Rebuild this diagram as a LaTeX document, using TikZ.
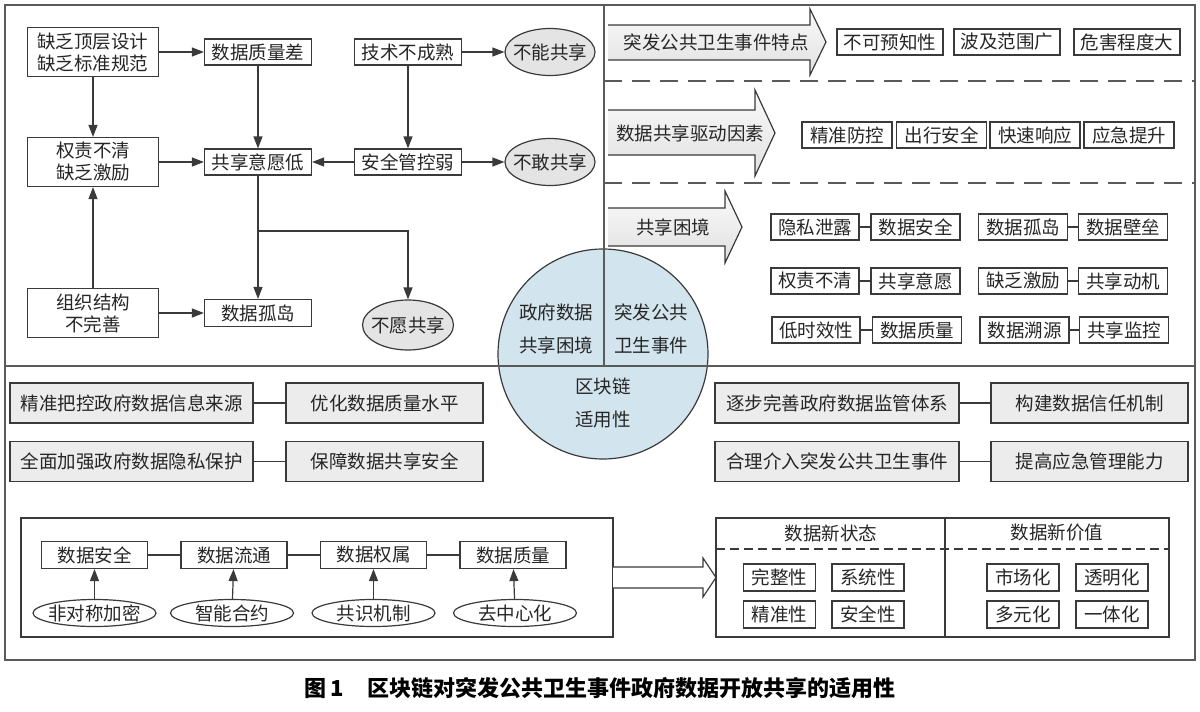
\documentclass[tikz,border=0pt]{standalone}
\usepackage{fontspec}
\setmainfont{Noto Sans CJK SC}
\usepackage{tikz}
\usetikzlibrary{arrows.meta, shapes.geometric}

\definecolor{lineGray}{HTML}{3A3A3A}
\definecolor{frameGray}{HTML}{5A5A5A}
\definecolor{ovalGray}{HTML}{E4E4E4}
\definecolor{boxGray}{HTML}{ECECEC}
\definecolor{circleBlue}{HTML}{D2E4ED}

\tikzset{
  every node/.style={font=\fontsize{18.5}{22}\selectfont, text=black!85},
  cellbox/.style={draw=lineGray, line width=1.2pt, fill=white, inner sep=0pt, minimum height=26pt},
  twobox/.style={cellbox, align=center, minimum width=131pt, minimum height=49pt},
  oval/.style={ellipse, draw=lineGray, line width=1.2pt, fill=ovalGray, inner xsep=-8pt, inner ysep=-2pt, minimum width=90pt, minimum height=47pt},
  techoval/.style={oval, fill=white, minimum width=123pt, minimum height=27pt},
  graybox/.style={cellbox, fill=boxGray, minimum height=40pt},
  link/.style={draw=lineGray, line width=1.2pt},
  arr/.style={link, -{Triangle[length=12pt, width=9pt]}},
  blockarrow/.style={draw=lineGray, line width=1.2pt, top color=gray!4, bottom color=gray!24},
  panel/.style={draw=lineGray, line width=1.2pt, inner sep=0pt},
  frame/.style={draw=frameGray, line width=1.2pt}
}

\begin{document}
\begin{tikzpicture}[x=1pt, y=-1pt]
  \useasboundingbox (0,0) rectangle (1200,712);

  \def\xMID{604};
  \def\yMID{366};

  % circle in the middle
  \draw[lineGray, line width=1.2pt, fill=circleBlue] (603,354) circle (105);

  % frame and dividers
  \begin{scope}[frame]
    \draw (5,5) rectangle (1195,660);
    \draw (\xMID,5) -- (\xMID,\yMID);
    \draw (5,\yMID) -- (1195,\yMID);
  \end{scope}
  \begin{scope}[frame, dash pattern=on 18pt off 10pt]
    \draw (\xMID,81) -- (1195,81);
    \draw (\xMID,183) -- (1195,183);
  \end{scope}

  \node[align=center, font=\fontsize{18.5}{33}\selectfont] (govData) at (556,328.5) {政府数据\\共享困境};
  \node[align=center, font=\fontsize{18.5}{33}\selectfont] (emergEvent) at (651,328.5) {突发公共\\卫生事件};
  \node[align=center, font=\fontsize{18.5}{33}\selectfont] (chainFit) at (603,403) {区块链\\适用性};

  % top left: causes of the sharing dilemma
  \node[twobox] (lackTop) at (93,52) {缺乏顶层设计\\缺乏标准规范};
  \node[cellbox, minimum width=107pt] (poorQual) at (258,52) {数据质量差};
  \node[cellbox, minimum width=107pt] (immature) at (408,52) {技术不成熟};
  \node[oval] (cannotShare) at (550,52) {不能共享};
  \node[twobox] (unclearDuty) at (93,162) {权责不清\\缺乏激励};
  \node[cellbox, minimum width=107pt] (lowWill) at (258,162) {共享意愿低};
  \node[cellbox, minimum width=107pt] (weakCtl) at (408,162) {安全管控弱};
  \node[oval] (dareNot) at (550,162) {不敢共享};
  \node[twobox] (orgStruct) at (93,313) {组织结构\\不完善};
  \node[cellbox, minimum width=107pt, minimum height=27pt] (dataIsland) at (258,313) {数据孤岛};
  \node[oval, minimum width=91pt, minimum height=50pt] (unwilling) at (408,325) {不愿共享};
  \coordinate (split) at (258,231);

  \begin{scope}[arr]
    \draw (lackTop) -- (poorQual);
    \draw (lackTop) -- (unclearDuty);
    \draw (orgStruct) -- (unclearDuty);
    \draw (unclearDuty) -- (lowWill);
    \draw (poorQual) -- (lowWill);
    \draw (immature) -- (weakCtl);
    \draw (immature) -- (cannotShare);
    \draw (weakCtl) -- (lowWill);
    \draw (weakCtl) -- (dareNot);
    \draw (lowWill) -- (dataIsland);
    \draw (split) -| (unwilling);
    \draw (orgStruct) -- (dataIsland);
  \end{scope}

  % top right: block arrows
  \draw[blockarrow] (608,25) -- (810,25) -- (810,9) -- (826,42) -- (810,75) -- (810,60) -- (608,60);
  \draw[blockarrow] (608,110) -- (755,110) -- (755,90) -- (775,133) -- (755,176) -- (755,155) -- (608,155);
  \draw[blockarrow] (608,208) -- (725,208) -- (725,191) -- (742,227) -- (725,263) -- (725,246) -- (608,246);
  \node (featureLbl) at (716,42) {突发公共卫生事件特点};
  \node (driverLbl) at (690,133) {数据共享驱动因素};
  \node (dilemmaLbl) at (673,227) {共享困境};

  \node[cellbox, minimum width=106pt] (unforeseen) at (890,42) {不可预知性};
  \node[cellbox, minimum width=106pt] (wideRange) at (1007,42) {波及范围广};
  \node[cellbox, minimum width=106pt] (greatHarm) at (1127,42) {危害程度大};

  \node[cellbox, minimum width=90pt] (preciseCtl) at (847,135) {精准防控};
  \node[cellbox, minimum width=90pt] (travelSafe) at (941.5,135) {出行安全};
  \node[cellbox, minimum width=90pt] (fastResp) at (1035,135) {快速响应};
  \node[cellbox, minimum width=90pt] (emergUp) at (1129,135) {应急提升};

  \node[cellbox, minimum width=88pt] (privLeak) at (815,227) {隐私泄露};
  \node[cellbox, minimum width=89pt] (dataSafeA) at (915.5,227) {数据安全};
  \node[cellbox, minimum width=89pt] (islandB) at (1023,227) {数据孤岛};
  \node[cellbox, minimum width=89pt] (barrier) at (1123,227) {数据壁垒};
  \node[cellbox, minimum width=88pt] (dutyB) at (815,281) {权责不清};
  \node[cellbox, minimum width=89pt] (willB) at (915.5,281) {共享意愿};
  \node[cellbox, minimum width=89pt] (incentB) at (1023,281) {缺乏激励};
  \node[cellbox, minimum width=89pt] (motive) at (1123,281) {共享动机};
  \node[cellbox, minimum width=88pt] (timeliness) at (816,330) {低时效性};
  \node[cellbox, minimum width=89pt] (qualB) at (917,330) {数据质量};
  \node[cellbox, minimum width=89pt] (traceSrc) at (1024.5,330) {数据溯源};
  \node[cellbox, minimum width=89pt] (monitor) at (1124,330) {共享监控};

  \begin{scope}[link]
    \draw (privLeak) -- (dataSafeA);
    \draw (islandB) -- (barrier);
    \draw (dutyB) -- (willB);
    \draw (incentB) -- (motive);
    \draw (timeliness) -- (qualB);
    \draw (traceSrc) -- (monitor);
  \end{scope}

  % middle: measures
  \node[graybox, minimum width=243pt] (srcCtl) at (131.5,403) {精准把控政府数据信息来源};
  \node[graybox, minimum width=197pt] (optQual) at (384.5,403) {优化数据质量水平};
  \node[graybox, minimum width=243pt] (privProt) at (131.5,461.5) {全面加强政府数据隐私保护};
  \node[graybox, minimum width=197pt] (guardSafe) at (384.5,461.5) {保障数据共享安全};
  \node[graybox, minimum width=244pt] (superSys) at (837,403) {逐步完善政府数据监管体系};
  \node[graybox, minimum width=197pt] (trustMech) at (1089.5,403) {构建数据信任机制};
  \node[graybox, minimum width=244pt] (intervene) at (837,461.5) {合理介入突发公共卫生事件};
  \node[graybox, minimum width=197pt] (emergAbility) at (1089.5,461.5) {提高应急管理能力};

  \begin{scope}[link]
    \draw (srcCtl) -- (optQual);
    \draw (privProt) -- (guardSafe);
    \draw (superSys) -- (trustMech);
    \draw (intervene) -- (emergAbility);
  \end{scope}

  % bottom left: blockchain techniques
  \node[panel, minimum width=592pt, minimum height=119pt] (techPanel) at (317,577.5) {};
  \node[cellbox, minimum width=106pt, minimum height=27pt] (safeC) at (94.5,555) {数据安全};
  \node[cellbox, minimum width=106pt, minimum height=27pt] (flowC) at (234,555) {数据流通};
  \node[cellbox, minimum width=106pt, minimum height=27pt] (ownC) at (373.5,555) {数据权属};
  \node[cellbox, minimum width=106pt, minimum height=27pt] (qualC) at (513,555) {数据质量};
  \node[techoval] (asymEnc) at (94.5,613) {非对称加密};
  \node[techoval] (smartCt) at (232,613) {智能合约};
  \node[techoval] (consensus) at (373.5,613) {共识机制};
  \node[techoval] (decentral) at (515,613) {去中心化};

  \begin{scope}[link]
    \draw (safeC) -- (flowC);
    \draw (flowC) -- (ownC);
    \draw (ownC) -- (qualC);
  \end{scope}
  \begin{scope}[arr]
    \draw (asymEnc) -- (safeC);
    \draw (smartCt) -- (flowC);
    \draw (consensus) -- (ownC);
    \draw (decentral) -- (qualC);
  \end{scope}

  % hollow arrow to the new state / value panel
  \draw[link, fill=white] (613,567) -- (703,567) -- (703,558) -- (716,577.5) -- (703,597) -- (703,588) -- (613,588);

  % bottom right: new state and new value
  \node[panel, minimum width=453pt, minimum height=119pt] (valuePanel) at (942.5,577.5) {};
  \draw[link] (945,518) -- (945,637);
  \draw[link, dash pattern=on 9pt off 5pt] (716,549) -- (1169,549);
  \node (newState) at (831,533) {数据新状态};
  \node (newValue) at (1057,533) {数据新价值};

  \node[cellbox, minimum width=72pt, minimum height=27pt] (integrity) at (779.5,577.5) {完整性};
  \node[cellbox, minimum width=72pt, minimum height=27pt] (systemic) at (868,577.5) {系统性};
  \node[cellbox, minimum width=72pt, minimum height=27pt] (accuracy) at (779.5,614.5) {精准性};
  \node[cellbox, minimum width=72pt, minimum height=27pt] (security) at (868,614.5) {安全性};
  \node[cellbox, minimum width=72pt, minimum height=27pt] (market) at (1023,577.5) {市场化};
  \node[cellbox, minimum width=72pt, minimum height=27pt] (transparent) at (1112,577.5) {透明化};
  \node[cellbox, minimum width=72pt, minimum height=27pt] (diverse) at (1023,614.5) {多元化};
  \node[cellbox, minimum width=72pt, minimum height=27pt] (integrated) at (1112,614.5) {一体化};

  % caption
  \node[font=\fontsize{22}{26}\selectfont\bfseries, text=black] (caption) at (600,688) {图\,1\hspace{24pt}区块链对突发公共卫生事件政府数据开放共享的适用性};
\end{tikzpicture}
\end{document}
